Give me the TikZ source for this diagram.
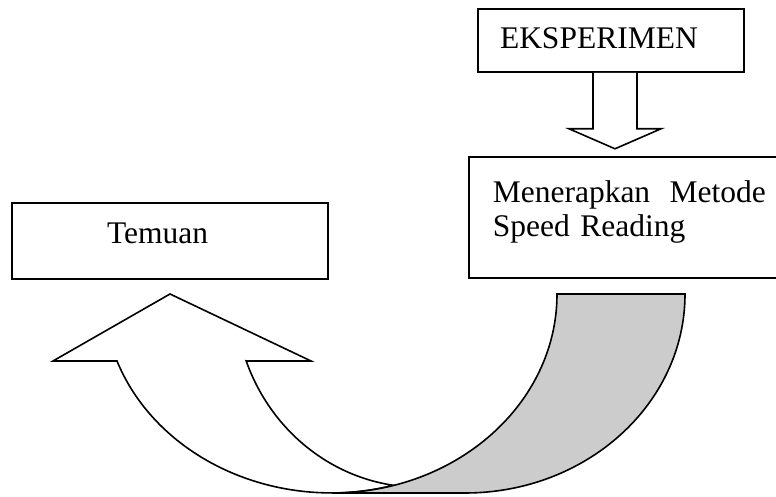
\documentclass[tikz,border=0pt]{standalone}
\usepackage{fontspec}
\setmainfont{Liberation Serif}
\usetikzlibrary{positioning}
\tikzstyle{box} = [rectangle, draw, line width=0.8pt, align=left, inner ysep=0pt]
\tikzstyle{hollow} = [draw, line width=0.8pt, fill=white]
\tikzstyle{shade} = [draw, line width=0.8pt, fill=black!20]

\begin{document}
\begin{tikzpicture}[x=0.5pt, y=0.5pt, font=\fontsize{15.75}{17}\selectfont]
\useasboundingbox (0,0) rectangle (776,497);

\node [box, minimum height=31.5pt, text width=111pt, inner xsep=11pt, text depth=2.5pt] (eks) at (611,456.5) {EKSPERIMEN};
\node [box, anchor=west, minimum height=60.5pt, text width=136.5pt, inner xsep=12pt, text depth=25.5pt] (metode) at (468,279.5) {Menerapkan\hfill Metode\\Speed Reading};
\node [box, minimum height=38pt, text width=63pt, inner xsep=47.5pt, text depth=8pt] (temuan) at (170,256) {Temuan};

% block arrow down
\draw [hollow] ([xshift=-9pt]eks.south) -- ++(0,-56) -- ++(-24,0) -- ++(46,-20) -- ++(46,20) -- ++(-24,0) -- ([xshift=13pt]eks.south);

% curved arrow back up to Temuan
\draw [hollow] (246.5,136) -- (311,136) -- (170,203) -- (53,136) -- (117,136)
  arc [start angle=199.7, end angle=270, x radius=228, y radius=199]
  arc [start angle=270, end angle=285.9, x radius=225, y radius=199]
  arc [start angle=261.8, end angle=200.3, x radius=185, y radius=193.5] -- cycle;
\draw [shade] (557,203) -- (685,203)
  arc [start angle=0, end angle=-90, x radius=220, y radius=199]
  -- (332,4)
  arc [start angle=270, end angle=360, x radius=225, y radius=199] -- cycle;
\end{tikzpicture}
\end{document}
